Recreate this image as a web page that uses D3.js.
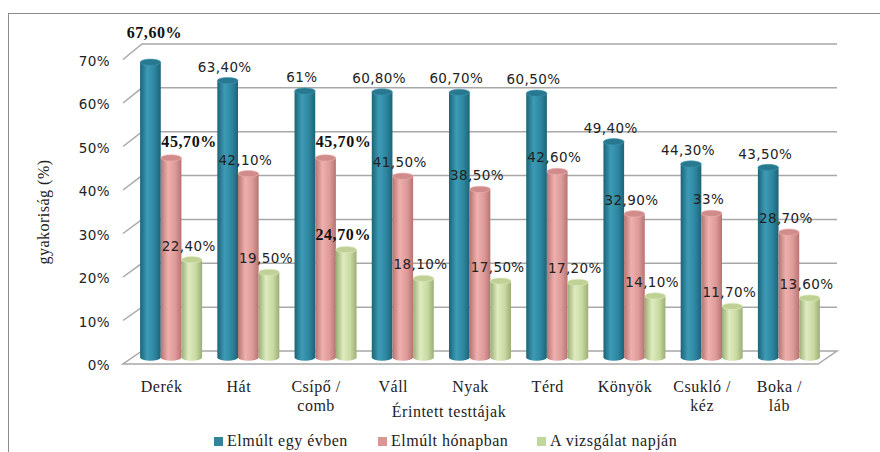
<!DOCTYPE html>
<html>
<head>
  <meta charset="utf-8">
  <script src="https://d3js.org/d3.v7.min.js"></script>
  <style>
    body { margin: 0; background: #fff; }
    .tick-label, .val { font-family: "DejaVu Sans"; font-size: 13.5px; fill: #222; letter-spacing: 0.4px; }
    .val.bold { font-family: "Liberation Serif"; font-weight: bold; font-size: 16px; fill: #111; letter-spacing: 0.6px; }
    .serif { font-family: "Liberation Serif"; font-size: 16px; fill: #222; letter-spacing: 0.5px; }
    .grid { stroke: #a8a8a8; stroke-width: 1.5; fill: none; }
  </style>
</head>
<body>
<svg width="880" height="452"></svg>
<script>
// data
var categories = ["Derék", "Hát", "Csípő /\ncomb", "Váll", "Nyak", "Térd", "Könyök", "Csukló /\nkéz", "Boka /\nláb"];
var seriesNames = ["Elmúlt egy évben", "Elmúlt hónapban", "A vizsgálat napján"];
var evben  = [67.6, 63.4, 61, 60.8, 60.7, 60.5, 49.4, 44.3, 43.5];
var honap  = [45.7, 42.1, 45.7, 41.5, 38.5, 42.6, 32.9, 33, 28.7];
var napjan = [22.4, 19.5, 24.7, 18.1, 17.5, 17.2, 14.1, 11.7, 13.6];
var yTicks = [0, 10, 20, 30, 40, 50, 60, 70];
// labels that were set in bold and moved by hand: [series, category, dx, dy]
var boldLabels = [[0, 0, 7, -15], [1, 0, 21, -2], [1, 2, 21, -2], [2, 2, 0, 0]];

var series = [evben, honap, napjan];
var colors = [
  {dark: "#1c6377", light: "#3d9bb6", mid: "#2e86a0", top: "#28788f", legend: "#31849b"},
  {dark: "#b57472", light: "#eeb0ae", mid: "#dd9a98", top: "#d08c8a", legend: "#d99694"},
  {dark: "#9cae77", light: "#dfebbf", mid: "#c8d9a1", top: "#bfd195", legend: "#c3d69b"}
];

var svg = d3.select("svg");
var defs = svg.append("defs");
colors.forEach(function(c, i) {
  var g = defs.append("linearGradient").attr("id", "cyl" + i).attr("x1", 0).attr("x2", 1).attr("y1", 0).attr("y2", 0);
  g.append("stop").attr("offset", 0).attr("stop-color", c.dark);
  g.append("stop").attr("offset", 0.35).attr("stop-color", c.light);
  g.append("stop").attr("offset", 0.7).attr("stop-color", c.mid);
  g.append("stop").attr("offset", 1).attr("stop-color", c.dark);
});

// outer frame
svg.append("rect").attr("x", 8.5).attr("y", 13.5).attr("width", 900).attr("height", 500)
  .attr("fill", "none").attr("stroke", "#8c8c8c");

// 3d geometry
var depthX = 19;
var x = d3.scaleBand().domain(d3.range(categories.length)).range([123, 818]);
var yFront = d3.scaleLinear().domain([0, 70]).range([364, 59.5]);
var yBack = d3.scaleLinear().domain([0, 70]).range([351, 44]);
var yMid = d3.scaleLinear().domain([0, 70]).range([357.5, 51.8]);
var inner = d3.scaleBand().domain([0, 1, 2]).range([-31, 31]);

// walls and gridlines
var grid = svg.append("g");
yTicks.forEach(function(t) {
  if (t === 0) {
    grid.append("path").attr("class", "grid")
      .attr("d", "M" + x.range()[0] + "," + yFront(0) + "L" + x.range()[1] + "," + yFront(0) +
                 "L" + (x.range()[1] + depthX) + "," + yBack(0) + "L" + (x.range()[0] + depthX) + "," + yBack(0) + "Z");
  } else {
    grid.append("path").attr("class", "grid")
      .attr("d", "M" + x.range()[0] + "," + yFront(t) + "L" + (x.range()[0] + depthX) + "," + yBack(t) +
                 "L" + (x.range()[1] + depthX) + "," + yBack(t));
  }
  svg.append("text").attr("class", "tick-label")
    .attr("x", 110).attr("y", yFront(t) + 2)
    .attr("text-anchor", "end").attr("dominant-baseline", "middle")
    .text(t + "%");
});

// cylinders
var bw = inner.bandwidth(), ry = 3.2;
function barCx(s, i) { return x(i) + x.bandwidth() / 2 + depthX / 2 + inner(s) + bw / 2; }
categories.forEach(function(c, i) {
  series.forEach(function(vals, s) {
    var cx = barCx(s, i), top = yMid(vals[i]), bottom = yMid(0);
    var g = svg.append("g");
    g.append("ellipse").attr("cx", cx).attr("cy", bottom).attr("rx", bw / 2).attr("ry", ry).attr("fill", "url(#cyl" + s + ")");
    g.append("rect").attr("x", cx - bw / 2).attr("y", top).attr("width", bw).attr("height", bottom - top).attr("fill", "url(#cyl" + s + ")");
    g.append("ellipse").attr("cx", cx).attr("cy", top).attr("rx", bw / 2).attr("ry", ry)
      .attr("fill", colors[s].top).attr("stroke", colors[s].light).attr("stroke-width", 0.6);
  });
});

// value labels
function fmt(v) {
  return (Math.round(v) === v ? String(v) : v.toFixed(2).replace(".", ",")) + "%";
}
series.forEach(function(vals, s) {
  vals.forEach(function(v, i) {
    var b = boldLabels.find(function(d) { return d[0] === s && d[1] === i; });
    svg.append("text").attr("class", b ? "val bold" : "val")
      .attr("x", barCx(s, i) - 3 + (b ? b[2] : 0))
      .attr("y", yMid(v) - 13 + (b ? b[3] : 0))
      .attr("text-anchor", "middle").attr("dominant-baseline", "middle")
      .text(fmt(v));
  });
});

// category labels
categories.forEach(function(c, i) {
  c.split("\n").forEach(function(line, k) {
    svg.append("text").attr("class", "serif")
      .attr("x", x(i) + x.bandwidth() / 2).attr("y", 392 + k * 19)
      .attr("text-anchor", "middle").text(line);
  });
});

// axis titles
svg.append("text").attr("class", "serif").attr("text-anchor", "middle")
  .attr("transform", "translate(49,212) rotate(-90)").text("gyakoriság (%)");
svg.append("text").attr("class", "serif").attr("text-anchor", "middle")
  .attr("x", 449).attr("y", 417).text("Érintett testtájak");

// legend
var legendX = [214, 378, 537];
seriesNames.forEach(function(n, s) {
  svg.append("rect").attr("x", legendX[s]).attr("y", 437).attr("width", 9).attr("height", 9).attr("fill", colors[s].legend);
  svg.append("text").attr("class", "serif").attr("x", legendX[s] + 13).attr("y", 446).text(n);
});
</script>
</body>
</html>
